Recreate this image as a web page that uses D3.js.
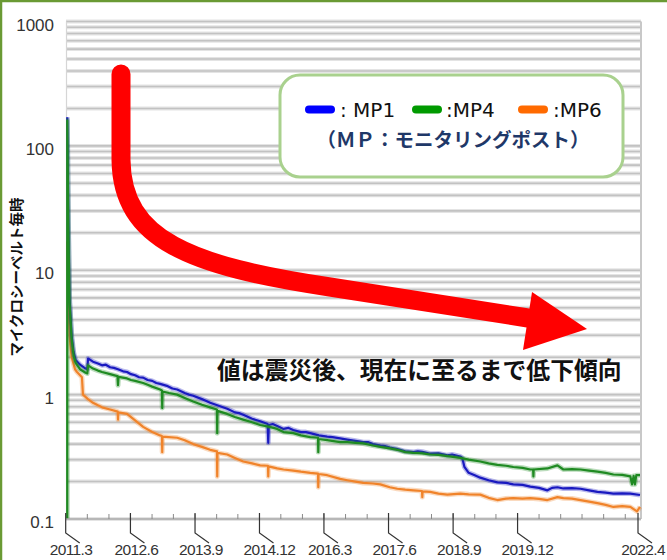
<!DOCTYPE html>
<html><head><meta charset="utf-8">
<script src="https://cdn.jsdelivr.net/npm/d3@7"></script>
<style>html,body{margin:0;padding:0;background:#fff;}svg{display:block;}</style>
</head><body>
<svg id="chart" width="667" height="560"></svg>
<script>
// ---------- data ----------
const xTickDates  = ["2011-03-01","2012-06-01","2013-09-01","2014-12-01","2016-03-01","2017-06-01","2018-09-01","2019-12-01","2022-04-01"];
const xTickLabels = ["2011.3","2012.6","2013.9","2014.12","2016.3","2017.6","2018.9","2019.12","2022.4"];
const yTickValues = [0.1, 1, 10, 100, 1000];
const yTickLabels = ["0.1", "1", "10", "100", "1000"];
const seriesNames  = ["MP1", "MP4", "MP6"];
const seriesColors = ["#1a1ac0", "#1f8a22", "#f0832a"];
const legendColors = ["#0000ff", "#009a00", "#ff6a00"];
const yTitle = "マイクロシーベルト毎時";
const legendNote = "（ＭＰ：モニタリングポスト）";
const annotation = "値は震災後、現在に至るまで低下傾向";

const mp1 = [
  ["2011-03-12",170],["2011-03-20",25],["2011-03-28",6],["2011-04-12",3],["2011-04-26",2.2],
  ["2011-05-10",1.9],["2011-06-10",1.74],["2011-07-20",1.62],["2011-08-01",1.6],["2011-08-06",1.95],
  ["2011-09-10",1.84],["2011-10-15",1.78],["2011-11-13",1.72],["2011-12-10",1.74],["2012-01-09",1.66],
  ["2012-02-05",1.64],["2012-03-05",1.6],["2012-04-10",1.54],["2012-05-08",1.52],["2012-06-05",1.46],
  ["2012-07-04",1.43],["2012-08-01",1.38],["2012-08-30",1.37],["2012-10-01",1.31],["2012-11-02",1.29],
  ["2012-12-01",1.24],["2012-12-28",1.22],["2013-02-20",1.17],["2013-03-25",1.12],["2013-04-28",1.1],
  ["2013-06-20",1.03],["2013-07-20",1.0],["2013-08-19",0.98],["2013-10-20",0.92],["2013-11-20",0.89],
  ["2013-12-17",0.86],["2014-02-20",0.81],["2014-04-17",0.77],["2014-06-10",0.72],["2014-07-10",0.71],
  ["2014-08-08",0.69],["2014-10-10",0.64],["2014-12-06",0.61],["2015-01-28",0.58],["2015-02-01",0.41],
  ["2015-02-05",0.57],["2015-03-05",0.58],["2015-04-05",0.56],["2015-05-20",0.53],["2015-06-25",0.54],
  ["2015-07-28",0.52],["2015-09-20",0.5],["2015-10-25",0.5],["2015-11-25",0.49],["2016-01-25",0.47],
  ["2016-03-24",0.46],["2016-05-01",0.455],["2016-06-24",0.445],["2016-08-13",0.435],["2016-10-10",0.425],
  ["2016-12-04",0.415],["2017-01-10",0.415],["2017-02-10",0.40],["2017-04-04",0.39],["2017-05-10",0.385],
  ["2017-06-10",0.375],["2017-08-02",0.365],["2017-09-27",0.35],["2017-11-23",0.345],["2017-12-25",0.35],
  ["2018-01-26",0.347],["2018-03-23",0.335],["2018-05-20",0.337],["2018-07-22",0.325],["2018-08-25",0.33],
  ["2018-10-22",0.318],["2018-11-05",0.31],["2018-11-20",0.262],["2018-12-20",0.235],["2019-02-01",0.225],
  ["2019-03-12",0.215],["2019-05-10",0.205],["2019-07-11",0.197],["2019-09-10",0.195],["2019-11-01",0.19],
  ["2020-01-05",0.188],["2020-02-29",0.182],["2020-05-01",0.178],["2020-06-29",0.17],["2020-08-01",0.178],
  ["2020-09-08",0.18],["2020-10-20",0.176],["2020-12-20",0.177],["2021-02-18",0.175],["2021-04-20",0.17],
  ["2021-06-18",0.165],["2021-08-15",0.163],["2021-10-09",0.16],["2021-12-10",0.161],["2022-02-06",0.16],
  ["2022-04-15",0.156]
];
const mp4 = [
  ["2011-03-12",0.1],["2011-03-12",160],["2011-03-20",22],["2011-03-28",5.5],["2011-04-12",2.8],
  ["2011-04-26",2.05],["2011-05-10",1.8],["2011-06-10",1.6],["2011-07-20",1.5],["2011-08-01",1.48],
  ["2011-08-06",1.72],["2011-09-10",1.62],["2011-10-15",1.56],["2011-11-13",1.52],["2012-01-09",1.46],
  ["2012-03-01",1.41],["2012-03-05",1.19],["2012-03-09",1.39],["2012-05-08",1.35],["2012-06-05",1.31],
  ["2012-07-04",1.29],["2012-08-30",1.24],["2012-10-01",1.2],["2012-11-02",1.16],["2012-12-28",1.1],
  ["2013-01-10",1.08],["2013-01-12",0.78],["2013-01-14",1.06],["2013-03-01",1.03],["2013-04-28",1.0],
  ["2013-06-20",0.94],["2013-08-19",0.88],["2013-10-20",0.83],["2013-12-17",0.79],["2014-02-03",0.76],
  ["2014-02-05",0.49],["2014-02-07",0.74],["2014-04-17",0.7],["2014-06-10",0.66],["2014-08-08",0.63],
  ["2014-10-10",0.6],["2014-12-06",0.57],["2015-02-10",0.55],["2015-04-05",0.53],["2015-05-20",0.5],
  ["2015-07-28",0.49],["2015-09-20",0.47],["2015-11-25",0.455],["2016-01-19",0.45],["2016-01-21",0.345],
  ["2016-01-23",0.44],["2016-03-24",0.43],["2016-06-24",0.415],["2016-08-13",0.415],["2016-10-10",0.41],
  ["2016-12-04",0.405],["2017-02-10",0.39],["2017-04-04",0.38],["2017-06-10",0.37],["2017-08-02",0.36],
  ["2017-09-27",0.345],["2017-11-23",0.34],["2018-01-26",0.337],["2018-03-23",0.33],["2018-05-20",0.328],
  ["2018-07-22",0.32],["2018-10-22",0.31],["2018-12-20",0.3],["2019-03-12",0.29],["2019-05-10",0.28],
  ["2019-07-11",0.272],["2019-09-10",0.268],["2019-11-01",0.262],["2020-01-05",0.258],["2020-02-29",0.25],
  ["2020-03-20",0.25],["2020-03-22",0.22],["2020-03-24",0.25],["2020-06-29",0.255],["2020-09-08",0.27],
  ["2020-10-20",0.25],["2020-12-20",0.252],["2021-02-18",0.25],["2021-04-20",0.245],["2021-06-18",0.24],
  ["2021-08-15",0.235],["2021-10-09",0.228],["2021-12-10",0.226],["2022-02-06",0.22],["2022-02-18",0.19],
  ["2022-03-01",0.222],["2022-03-10",0.19],["2022-03-20",0.225],["2022-04-15",0.225]
];
const mp6 = [
  ["2011-03-12",17],["2011-03-20",6],["2011-03-28",3],["2011-04-12",2.0],["2011-05-06",1.6],
  ["2011-05-20",1.52],["2011-06-24",1.38],["2011-07-01",1.0],["2011-08-06",0.92],["2011-09-10",0.86],
  ["2011-10-15",0.82],["2011-11-13",0.79],["2012-01-09",0.76],["2012-03-03",0.73],["2012-03-05",0.63],
  ["2012-03-07",0.72],["2012-05-08",0.7],["2012-07-04",0.62],["2012-08-30",0.55],["2012-11-02",0.5],
  ["2012-12-28",0.47],["2013-01-10",0.465],["2013-01-12",0.345],["2013-01-14",0.46],["2013-04-28",0.45],
  ["2013-06-20",0.43],["2013-08-19",0.4],["2013-10-20",0.38],["2013-12-17",0.36],["2014-02-03",0.35],
  ["2014-02-05",0.22],["2014-02-07",0.34],["2014-04-17",0.33],["2014-06-10",0.31],["2014-08-08",0.29],
  ["2014-10-10",0.28],["2014-12-06",0.27],["2015-01-30",0.268],["2015-02-01",0.22],["2015-02-03",0.265],
  ["2015-04-05",0.255],["2015-05-20",0.25],["2015-07-28",0.245],["2015-09-20",0.24],["2015-11-25",0.235],
  ["2016-01-19",0.232],["2016-01-21",0.18],["2016-01-23",0.23],["2016-03-24",0.225],["2016-06-24",0.21],
  ["2016-08-13",0.205],["2016-10-10",0.2],["2016-12-04",0.195],["2017-02-10",0.193],["2017-04-04",0.19],
  ["2017-06-10",0.18],["2017-08-02",0.175],["2017-09-27",0.172],["2017-11-23",0.17],["2018-01-24",0.168],
  ["2018-01-26",0.15],["2018-01-28",0.167],["2018-03-23",0.165],["2018-05-20",0.16],["2018-07-22",0.157],
  ["2018-10-22",0.16],["2018-12-20",0.158],["2019-03-12",0.157],["2019-05-10",0.148],["2019-07-11",0.142],
  ["2019-09-10",0.146],["2019-11-01",0.147],["2020-01-05",0.146],["2020-02-29",0.147],["2020-05-01",0.145],
  ["2020-06-29",0.142],["2020-09-08",0.15],["2020-10-20",0.147],["2020-12-20",0.146],["2021-02-18",0.142],
  ["2021-04-20",0.138],["2021-06-18",0.134],["2021-08-15",0.13],["2021-10-09",0.125],["2021-12-10",0.127],
  ["2022-02-06",0.125],["2022-03-25",0.115],["2022-04-15",0.125]
];
const seriesData = [mp1, mp4, mp6];

// ---------- layout ----------
const W = 667, H = 560;
const plot = {left: 66, right: 641, top: 21.5, bottom: 519};
const parse = d3.timeParse("%Y-%m-%d");
const svg = d3.select("#chart");

const x = d3.scaleTime()
  .domain([parse("2011-03-01"), parse("2022-04-01")])
  .range([65.7, 638]);
const y = d3.scaleLog()
  .domain([0.1, 1000])
  .range([plot.bottom, plot.top]);

// outer frame (green top/left edges)
svg.append("line").attr("x1",0).attr("x2",W).attr("y1",1).attr("y2",1)
  .attr("stroke","#6a9a34").attr("stroke-width",2.5);
svg.append("line").attr("x1",1).attr("x2",1).attr("y1",0).attr("y2",H)
  .attr("stroke","#6a9a34").attr("stroke-width",2.5);

// gridlines: every 1..9 x 10^k
const gridVals = [];
for (let e = -1; e < 3; e++) for (let k = 1; k <= 9; k++) gridVals.push(k * Math.pow(10, e));
gridVals.push(1000);
const grid = svg.append("g");
grid.selectAll("line.halo").data(gridVals).join("line")
  .attr("x1", plot.left).attr("x2", plot.right)
  .attr("y1", d => y(d)).attr("y2", d => y(d))
  .attr("stroke", "#e4e4e4").attr("stroke-width", 4);
grid.selectAll("line.core").data(gridVals).join("line")
  .attr("x1", plot.left).attr("x2", plot.right)
  .attr("y1", d => y(d)).attr("y2", d => y(d))
  .attr("stroke", "#c2c2c2").attr("stroke-width", 1.6);
// right border
svg.append("line").attr("x1", plot.right).attr("x2", plot.right)
  .attr("y1", plot.top).attr("y2", plot.bottom)
  .attr("stroke", "#c8c8c8").attr("stroke-width", 2);
// left axis line
svg.append("line").attr("x1", plot.left+0.5).attr("x2", plot.left+0.5)
  .attr("y1", plot.top).attr("y2", plot.bottom)
  .attr("stroke", "#d6d6d6").attr("stroke-width", 1.2);

// y labels
svg.append("g").selectAll("text").data(yTickValues).join("text")
  .attr("x", 54).attr("y", d => y(d) + 9)
  .attr("text-anchor", "end")
  .attr("font-family", "Liberation Sans, Arial, sans-serif")
  .attr("font-size", 17).attr("fill", "#333")
  .text((d, i) => yTickLabels[i]);

// y title
svg.append("text")
  .attr("transform", "translate(15,277) rotate(-90)")
  .attr("text-anchor", "middle").attr("dominant-baseline", "central")
  .attr("font-family", "Noto Sans CJK JP, sans-serif")
  .attr("font-weight", "bold").attr("font-size", 14.5).attr("fill", "#111")
  .text(yTitle);

// series
svg.append("clipPath").attr("id","pc").append("rect")
  .attr("x", plot.left).attr("y", plot.top)
  .attr("width", plot.right - plot.left + 1).attr("height", plot.bottom - plot.top + 1);
const line = d3.line().x(d => x(parse(d[0]))).y(d => y(d[1]));
const drawOrder = [2, 0, 1];
const lg = svg.append("g").attr("clip-path", "url(#pc)");
drawOrder.forEach(i => {
  lg.append("path").datum(seriesData[i]).attr("d", line)
    .attr("fill", "none").attr("stroke", seriesColors[i])
    .attr("stroke-opacity", 0.3).attr("stroke-width", 5).attr("stroke-linejoin","round");
  lg.append("path").datum(seriesData[i]).attr("d", line)
    .attr("fill", "none").attr("stroke", seriesColors[i])
    .attr("stroke-width", 2.2).attr("stroke-linejoin","round");
});

// x axis
svg.append("line").attr("x1", plot.left).attr("x2", plot.right)
  .attr("y1", plot.bottom).attr("y2", plot.bottom)
  .attr("stroke", "#b0b0b0").attr("stroke-width", 1.5);
const start = parse("2011-03-01");
const minor = d3.range(5, 133, 5).map(m => d3.timeMonth.offset(start, m));
svg.append("g").selectAll("line").data(minor).join("line")
  .attr("x1", d => x(d)).attr("x2", d => x(d))
  .attr("y1", plot.bottom).attr("y2", plot.bottom - 5)
  .attr("stroke", "#8a8a8a").attr("stroke-width", 1);
const majors = xTickDates.map(parse);
svg.append("g").selectAll("path").data(majors).join("path")
  .attr("d", d => { const px = x(d); return `M${px},${plot.bottom-6}L${px},533L${px+14},543`; })
  .attr("fill", "none").attr("stroke", "#333").attr("stroke-width", 1.2);
const lastIdx = majors.length - 1;
svg.append("g").selectAll("text").data(majors).join("text")
  .attr("x", (d, i) => i === lastIdx ? W - 2 : x(d) - 16)
  .attr("y", 555)
  .attr("text-anchor", (d, i) => i === lastIdx ? "end" : "start")
  .attr("font-family", "Liberation Sans, Arial, sans-serif")
  .attr("font-size", 15.5).attr("letter-spacing", -0.6).attr("fill", "#333")
  .text((d, i) => xTickLabels[i]);

// red arrow
svg.append("path")
  .attr("d", "M121,74 L121,160 C122,240 190,266 330,287 L528,318")
  .attr("fill", "none").attr("stroke", "#ff0000").attr("stroke-width", 19)
  .attr("stroke-linecap", "round");
svg.append("path")
  .attr("d", "M532,292 L587,329 L523,350 Z")
  .attr("fill", "#ff0000");

// annotation text
svg.append("text")
  .attr("x", 217).attr("y", 379)
  .attr("font-family", "Noto Sans CJK JP, sans-serif")
  .attr("font-weight", "bold").attr("font-size", 23.8).attr("fill", "#111")
  .text(annotation);

// legend box
svg.append("rect").attr("x", 280).attr("y", 75).attr("width", 343).attr("height", 102)
  .attr("rx", 20).attr("ry", 20)
  .attr("fill", "#fff").attr("stroke", "#a9d18e").attr("stroke-width", 3);
const legPillX = [309, 416, 522];
const legTextX = [340, 446, 553];
const legText  = [": ", ":", ":"];
seriesNames.forEach((n, i) => {
  svg.append("line").attr("x1", legPillX[i]).attr("x2", legPillX[i] + 22)
    .attr("y1", 109.5).attr("y2", 109.5)
    .attr("stroke", legendColors[i]).attr("stroke-width", 8).attr("stroke-linecap", "round");
  svg.append("text").attr("x", legTextX[i]).attr("y", 117)
    .attr("font-family", "DejaVu Sans, Verdana, sans-serif")
    .attr("font-size", 20).attr("fill", "#111")
    .attr("xml:space", "preserve").style("white-space", "pre")
    .text(legText[i] + n);
});
svg.append("text").attr("x", 453).attr("y", 147)
  .attr("text-anchor", "middle")
  .attr("font-family", "Noto Sans CJK JP, sans-serif")
  .attr("font-weight", "bold").attr("font-size", 19.5).attr("fill", "#1f3868")
  .text(legendNote);
</script>
</body></html>
